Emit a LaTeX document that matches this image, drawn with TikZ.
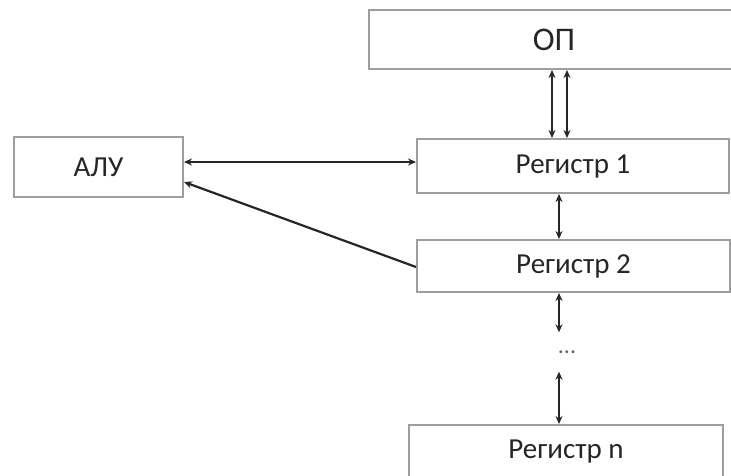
\documentclass[tikz,border=0pt]{standalone}
\usepackage{fontspec}
\setmainfont{Carlito}
\usetikzlibrary{arrows.meta}
\begin{document}
\begin{tikzpicture}[x=1pt,y=-1pt,
  box/.style={draw=black!38,line width=2pt,fill=white,inner sep=0pt,text=black!85,font=\fontsize{29}{34}\selectfont},
  arr/.style={{Stealth[length=8pt,width=7pt]}-{Stealth[length=8pt,width=7pt]},line width=2.2pt,draw=black!85},
  one/.style={-{Stealth[length=8pt,width=7pt]},line width=2.2pt,draw=black!85}]
\useasboundingbox (0,0) rectangle (731,475);
\fill[white] (0,0) rectangle (731,475);
\node[box,minimum width=370pt,minimum height=59pt,font=\fontsize{33}{38}\selectfont] (op) at (554,39.5) {ОП};
\node[box,minimum width=312pt,minimum height=54pt] (r1) at (573,166) {Регистр 1};
\node[box,minimum width=169pt,minimum height=60pt] (alu) at (98.5,167) {АЛУ};
\node[box,minimum width=313pt,minimum height=52pt] (r2) at (573.5,266) {Регистр 2};
\node[box,minimum width=314pt,minimum height=53pt] (rn) at (566,451.5) {Регистр n};
\node[inner sep=0pt,minimum height=39pt,font=\fontsize{24}{26}\selectfont,text=black!60] (dots) at (567,352) {...};
\coordinate (a1) at (552,0);
\coordinate (a2) at (567,0);
\coordinate (c) at (559,0);
\coordinate (h1) at (0,162);
\coordinate (h2) at (0,182);
\coordinate (h3) at (0,267);
\draw[arr] (op.south -| a1) -- (r1.north -| a1);
\draw[arr] (op.south -| a2) -- (r1.north -| a2);
\draw[arr] (r1.south -| c) -- (r2.north -| c);
\draw[arr] (r2.south -| c) -- (dots.north -| c);
\draw[arr] (dots.south -| c) -- (rn.north -| c);
\draw[arr] (alu.east |- h1) -- (r1.west |- h1);
\draw[one] (r2.west |- h3) -- (alu.east |- h2);
\end{tikzpicture}
\end{document}
